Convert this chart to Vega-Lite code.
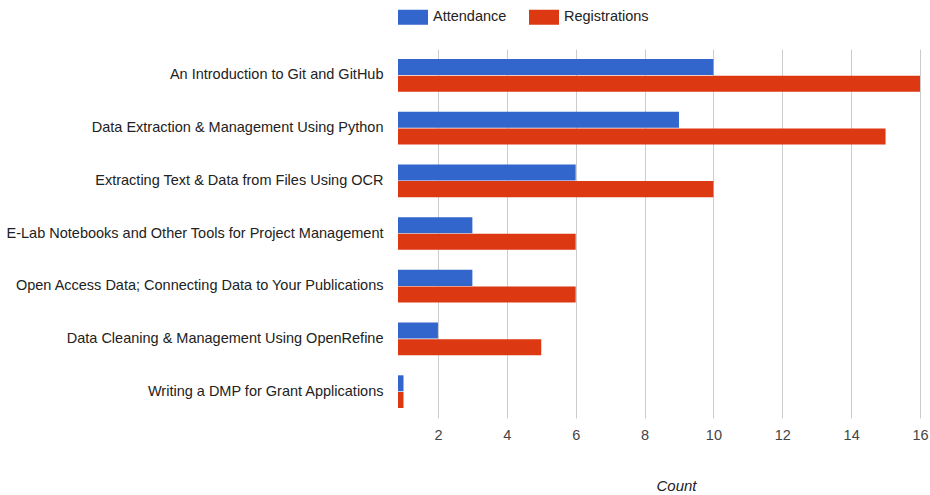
{
  "$schema": "https://vega.github.io/schema/vega-lite/v6.json",
  "width": 522,
  "height": 369,
  "padding": {"left": 5, "top": 2, "right": 10, "bottom": 5},
  "background": "white",
  "data": {
    "values": [
      {"course": "An Introduction to Git and GitHub", "series": "Attendance", "count": 10},
      {"course": "An Introduction to Git and GitHub", "series": "Registrations", "count": 16},
      {"course": "Data Extraction & Management Using Python", "series": "Attendance", "count": 9},
      {"course": "Data Extraction & Management Using Python", "series": "Registrations", "count": 15},
      {"course": "Extracting Text & Data from Files Using OCR", "series": "Attendance", "count": 6},
      {"course": "Extracting Text & Data from Files Using OCR", "series": "Registrations", "count": 10},
      {"course": "E-Lab Notebooks and Other Tools for Project Management", "series": "Attendance", "count": 3},
      {"course": "E-Lab Notebooks and Other Tools for Project Management", "series": "Registrations", "count": 6},
      {"course": "Open Access Data; Connecting Data to Your Publications", "series": "Attendance", "count": 3},
      {"course": "Open Access Data; Connecting Data to Your Publications", "series": "Registrations", "count": 6},
      {"course": "Data Cleaning & Management Using OpenRefine", "series": "Attendance", "count": 2},
      {"course": "Data Cleaning & Management Using OpenRefine", "series": "Registrations", "count": 5},
      {"course": "Writing a DMP for Grant Applications", "series": "Attendance", "count": 1},
      {"course": "Writing a DMP for Grant Applications", "series": "Registrations", "count": 1}
    ]
  },
  "mark": {"type": "bar"},
  "encoding": {
    "y": {
      "field": "course",
      "type": "nominal",
      "sort": null,
      "scale": {"paddingInner": 0.38, "paddingOuter": 0.19},
      "axis": {
        "title": null,
        "ticks": false,
        "domain": false,
        "labelPadding": 15,
        "labelFontSize": 14.5,
        "labelColor": "#222222",
        "labelLimit": 500
      }
    },
    "yOffset": {
      "field": "series",
      "type": "nominal",
      "scale": {"paddingInner": 0.04}
    },
    "x": {
      "field": "count",
      "type": "quantitative",
      "scale": {"domain": [0.84, 16], "nice": false, "zero": false, "clamp": true},
      "axis": {
        "title": "Count",
        "values": [2, 4, 6, 8, 10, 12, 14, 16],
        "ticks": false,
        "domain": false,
        "grid": true,
        "gridColor": "#cccccc",
        "labelFlush": false,
        "labelFontSize": 14.5,
        "labelColor": "#444444",
        "labelPadding": 10,
        "titleFontSize": 15,
        "titleFontStyle": "italic",
        "titleFontWeight": "normal",
        "titleColor": "#222222",
        "titlePadding": 37,
        "titleX": 278
      }
    },
    "color": {
      "field": "series",
      "type": "nominal",
      "scale": {"domain": ["Attendance", "Registrations"], "range": ["#3366cc", "#dc3912"]},
      "legend": {
        "orient": "top",
        "direction": "horizontal",
        "title": null,
        "symbolType": "M-1,-0.5H1V0.5H-1Z",
        "symbolSize": 900,
        "symbolStrokeWidth": 0,
        "symbolOpacity": 1,
        "labelFontSize": 14.5,
        "labelColor": "#222222",
        "columnPadding": 22,
        "labelOffset": 5,
        "offset": 24
      }
    }
  },
  "config": {
    "font": "Liberation Sans",
    "view": {"stroke": null}
  }
}
